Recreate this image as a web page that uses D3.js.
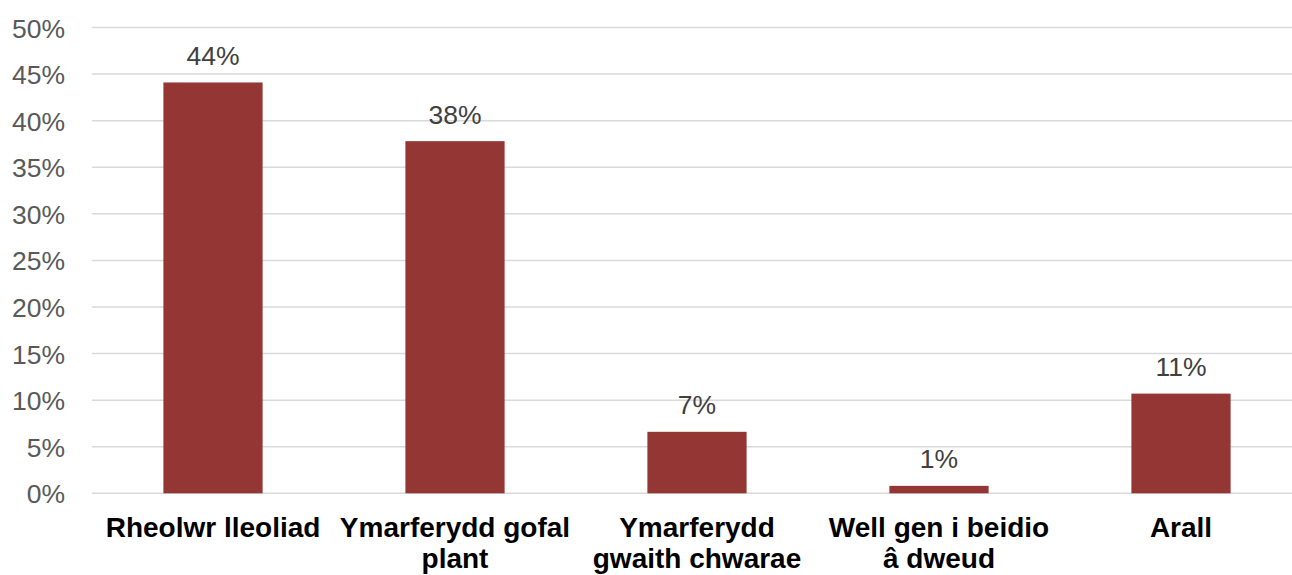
<!DOCTYPE html>
<html><head><meta charset="utf-8">
<script src="https://cdn.jsdelivr.net/npm/d3@7"></script>
<style>body{margin:0;background:#fff}svg{display:block}</style>
</head><body>
<svg id="c" width="1292" height="575"></svg>
<script>
const categories = ["Rheolwr lleoliad","Ymarferydd gofal plant","Ymarferydd gwaith chwarae","Well gen i beidio â dweud","Arall"];
const categoryLines = [["Rheolwr lleoliad"],["Ymarferydd gofal","plant"],["Ymarferydd","gwaith chwarae"],["Well gen i beidio","â dweud"],["Arall"]];
const values = [44.1, 37.8, 6.6, 0.8, 10.7];
const valueLabels = ["44%","38%","7%","1%","11%"];
const yTicks = [0,5,10,15,20,25,30,35,40,45,50];

const svg = d3.select("#c");
const x = d3.scaleBand().domain(categories).range([92, 1302]).paddingInner(0.59).paddingOuter(0.295);
const y = d3.scaleLinear().domain([0,50]).range([493.3, 27.5]);

// gridlines
svg.append("g").selectAll("line").data(yTicks).join("line")
  .attr("x1", 92).attr("x2", 1302)
  .attr("y1", d=>y(d)).attr("y2", d=>y(d))
  .attr("stroke", "#d9d9d9").attr("stroke-width", 1.5);

// y axis labels
const yAxis = d3.axisLeft(y).tickValues(yTicks).tickFormat(d=>d+"%").tickSize(0).tickPadding(0);
const ya = svg.append("g").attr("transform","translate(65,0)").call(yAxis);
ya.select(".domain").remove();
ya.selectAll("text").attr("font-family","'Liberation Sans', Arial, sans-serif")
  .attr("font-size", 26.5).attr("fill","#595959").attr("dy","0.36em");

// bars
svg.append("g").selectAll("rect").data(values).join("rect")
  .attr("x", (d,i)=>x(categories[i]))
  .attr("width", x.bandwidth())
  .attr("y", d=>y(d))
  .attr("height", d=>y(0)-y(d))
  .attr("fill", "#943634");

// value labels
svg.append("g").selectAll("text").data(values).join("text")
  .attr("x", (d,i)=>x(categories[i]) + x.bandwidth()/2)
  .attr("y", d=>y(d) - 17.5)
  .attr("text-anchor","middle")
  .attr("font-family","'Liberation Sans', Arial, sans-serif")
  .attr("font-size", 26.5).attr("fill","#404040")
  .text((d,i)=>valueLabels[i]);

// x axis labels
const xAxis = d3.axisBottom(x).tickSize(0).tickFormat(()=>"");
const xa = svg.append("g").attr("transform",`translate(0,${y(0)})`).call(xAxis);
xa.select(".domain").remove();
xa.selectAll(".tick").each(function(d,i){
  const t = d3.select(this).append("text")
    .attr("text-anchor","middle")
    .attr("font-family","'Liberation Sans', Arial, sans-serif")
    .attr("font-weight","bold").attr("font-size", 28).attr("fill","#000");
  categoryLines[i].forEach((ln,j)=>{
    t.append("tspan").attr("x",0).attr("y", 43.5 + j*31.5).text(ln);
  });
});
</script>
</body></html>
